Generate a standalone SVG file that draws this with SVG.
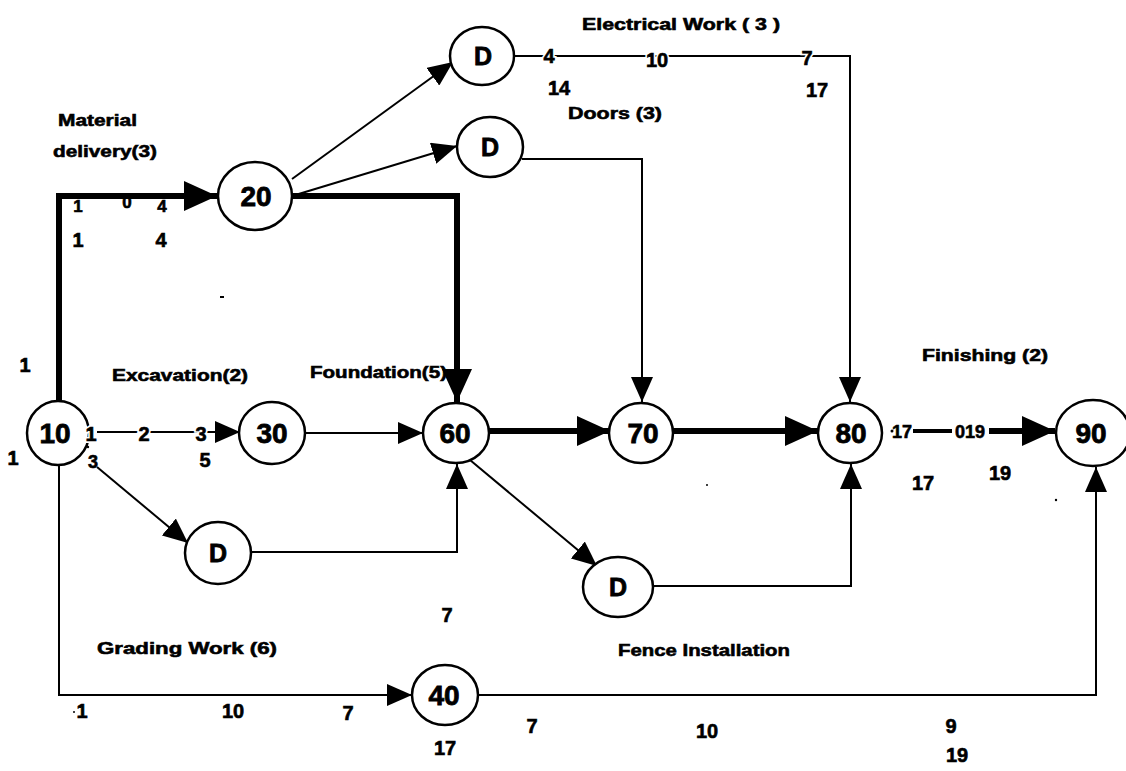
<svg xmlns="http://www.w3.org/2000/svg" width="1126" height="771" viewBox="0 0 1126 771">
<style>
.bg{fill:#fff}
.n{fill:#fff;stroke:#000;stroke-width:2.5}
.nt{font-family:"Liberation Sans",Arial,sans-serif;font-weight:bold;font-size:28px;text-anchor:middle;fill:#000;stroke:#000;stroke-width:0.8}
.dt{font-family:"Liberation Sans",Arial,sans-serif;font-weight:bold;font-size:25px;text-anchor:middle;fill:#000;stroke:#000;stroke-width:0.8}
.thin{fill:none;stroke:#000;stroke-width:2}
.thick{fill:none;stroke:#000;stroke-width:6}
.med{fill:none;stroke:#000;stroke-width:4}
.lab{font-family:"Liberation Sans",Arial,sans-serif;font-weight:bold;font-size:17px;fill:#000;stroke:#000;stroke-width:0.6}
.num{font-family:"Liberation Sans",Arial,sans-serif;font-weight:bold;font-size:20px;fill:#000;text-anchor:middle;stroke:#000;stroke-width:0.6}
.halo{stroke:#fff;stroke-width:4;fill:#fff}
</style>
<defs>
<marker id="ah" markerUnits="userSpaceOnUse" markerWidth="26" markerHeight="22" refX="25" refY="11" orient="auto">
<path d="M0,0 L25,11 L0,22 Z" fill="#000"/>
</marker>
<marker id="ahb" markerUnits="userSpaceOnUse" markerWidth="34" markerHeight="30" refX="33" refY="15" orient="auto">
<path d="M0,0 L33,15 L0,30 Z" fill="#000"/>
</marker>
</defs>
<rect class="bg" x="0" y="0" width="1126" height="771"/>

<g id="connectors">
<path class="thick" d="M59,401 V196 H217" marker-end="url(#ahb)"/>
<path class="thick" d="M292,196 H457 V402" marker-end="url(#ahb)"/>
<path class="thick" d="M489,431 H610" marker-end="url(#ahb)"/>
<path class="thick" d="M673,431 H818" marker-end="url(#ahb)"/>
<path class="med" d="M913,431 H952"/>
<path class="thick" d="M989,431 H1055" marker-end="url(#ahb)"/>
<path class="thin" d="M292,179 L453,62" marker-end="url(#ah)"/>
<path class="thin" d="M292,196 L457,146" marker-end="url(#ah)"/>
<path class="thin" d="M514,56 H850 V402" marker-end="url(#ah)"/>
<path class="thin" d="M522,159 H642 V402" marker-end="url(#ah)"/>
<path class="thin" d="M97,432 H240" marker-end="url(#ah)"/>
<path class="thin" d="M97,467 L188,543" marker-end="url(#ah)"/>
<path class="thin" d="M251,552 H457 V464" marker-end="url(#ah)"/>
<path class="thin" d="M305,433 H423" marker-end="url(#ah)"/>
<path class="thin" d="M470,460 L597,566" marker-end="url(#ah)"/>
<path class="thin" d="M653,586 H851 V464" marker-end="url(#ah)"/>
<path class="thin" d="M59,465 V695 H412" marker-end="url(#ah)"/>
<path class="thin" d="M478,695 H1096 V467" marker-end="url(#ah)"/>
</g>

<g id="n10"><ellipse class="n" cx="58" cy="433" rx="31" ry="32"/><text class="nt" x="55" y="443">10</text></g>
<g id="n20"><ellipse class="n" cx="255" cy="196" rx="37" ry="34"/><text class="nt" x="256" y="206">20</text></g>
<g id="n30"><ellipse class="n" cx="272" cy="433" rx="33" ry="31"/><text class="nt" x="272" y="443">30</text></g>
<g id="n60"><ellipse class="n" cx="456" cy="433" rx="33" ry="30"/><text class="nt" x="455" y="443">60</text></g>
<g id="n70"><ellipse class="n" cx="641" cy="433" rx="32" ry="30"/><text class="nt" x="643" y="443">70</text></g>
<g id="n80"><ellipse class="n" cx="850" cy="433" rx="32" ry="30"/><text class="nt" x="851" y="443">80</text></g>
<g id="n90"><ellipse class="n" cx="1093" cy="433" rx="37" ry="33"/><text class="nt" x="1091" y="443">90</text></g>
<g id="n40"><ellipse class="n" cx="445" cy="695" rx="33" ry="30"/><text class="nt" x="444" y="705">40</text></g>
<g id="d1"><ellipse class="n" cx="482" cy="56" rx="32" ry="29"/><text class="dt" x="483" y="65">D</text></g>
<g id="d2"><ellipse class="n" cx="490" cy="147" rx="33" ry="30"/><text class="dt" x="490" y="156">D</text></g>
<g id="d3"><ellipse class="n" cx="218" cy="553" rx="33" ry="31"/><text class="dt" x="218" y="562">D</text></g>
<g id="d4"><ellipse class="n" cx="618" cy="587" rx="35" ry="30"/><text class="dt" x="618" y="596">D</text></g>

<g id="labels">
<text class="lab" x="58" y="126" textLength="79" lengthAdjust="spacingAndGlyphs">Material</text>
<text class="lab" x="53" y="157" textLength="104" lengthAdjust="spacingAndGlyphs">delivery(3)</text>
<text class="lab" x="112" y="381" textLength="136" lengthAdjust="spacingAndGlyphs">Excavation(2)</text>
<text class="lab" x="310" y="378" textLength="137" lengthAdjust="spacingAndGlyphs">Foundation(5)</text>
<text class="lab" x="582" y="30" textLength="198" lengthAdjust="spacingAndGlyphs">Electrical Work ( 3 )</text>
<text class="lab" x="568" y="119" textLength="94" lengthAdjust="spacingAndGlyphs">Doors (3)</text>
<text class="lab" x="922" y="361" textLength="126" lengthAdjust="spacingAndGlyphs">Finishing (2)</text>
<text class="lab" x="97" y="654" textLength="180" lengthAdjust="spacingAndGlyphs">Grading Work (6)</text>
<text class="lab" x="618" y="656" textLength="172" lengthAdjust="spacingAndGlyphs">Fence Installation</text>

<text class="num" x="25" y="372">1</text>
<text class="num" x="13" y="465">1</text>
<text class="num" style="font-size:17px" x="78" y="212">1</text>
<text class="num" style="font-size:17px" x="127" y="208">0</text>
<text class="num" style="font-size:17px" x="162" y="212">4</text>
<text class="num" x="78" y="247">1</text>
<text class="num" x="161" y="247">4</text>
<text class="num halo" x="91" y="441">1</text><text class="num" x="91" y="441">1</text>
<text class="num halo" x="144" y="441">2</text><text class="num" x="144" y="441">2</text>
<text class="num halo" x="201" y="441">3</text><text class="num" x="201" y="441">3</text>
<text class="num" x="205" y="467">5</text>
<text class="num" style="font-size:18px" x="93" y="468">3</text>
<text class="num halo" x="549" y="63">4</text><text class="num" x="549" y="63">4</text>
<text class="num halo" x="657" y="67">10</text><text class="num" x="657" y="67">10</text>
<text class="num halo" x="807" y="65">7</text><text class="num" x="807" y="65">7</text>
<text class="num" x="559" y="95">14</text>
<text class="num" x="817" y="97">17</text>
<text class="num halo" style="font-size:18px" x="902" y="438">17</text><text class="num" style="font-size:18px" x="902" y="438">17</text>
<text class="num halo" style="font-size:18px" x="970" y="438">019</text><text class="num" style="font-size:18px" x="970" y="438">019</text>
<text class="num" x="923" y="490">17</text>
<text class="num" x="1000" y="480">19</text>
<text class="num" x="447" y="622">7</text>
<text class="num" x="82" y="718">1</text>
<text class="num" x="233" y="718">10</text>
<text class="num" x="348" y="720">7</text>
<text class="num" x="445" y="755">17</text>
<text class="num" x="532" y="733">7</text>
<text class="num" x="707" y="738">10</text>
<text class="num" x="951" y="733">9</text>
<text class="num" x="957" y="762">19</text>
</g>
<g id="specks">
<rect x="220" y="296" width="4" height="2" fill="#000"/>
<circle cx="88" cy="447" r="1.2" fill="#000"/>
<circle cx="707" cy="485" r="1" fill="#000"/>
<circle cx="1056" cy="500" r="1.2" fill="#000"/>
<circle cx="74" cy="712" r="1" fill="#000"/>
<circle cx="892" cy="431" r="1.5" fill="#000"/>
</g>
</svg>
